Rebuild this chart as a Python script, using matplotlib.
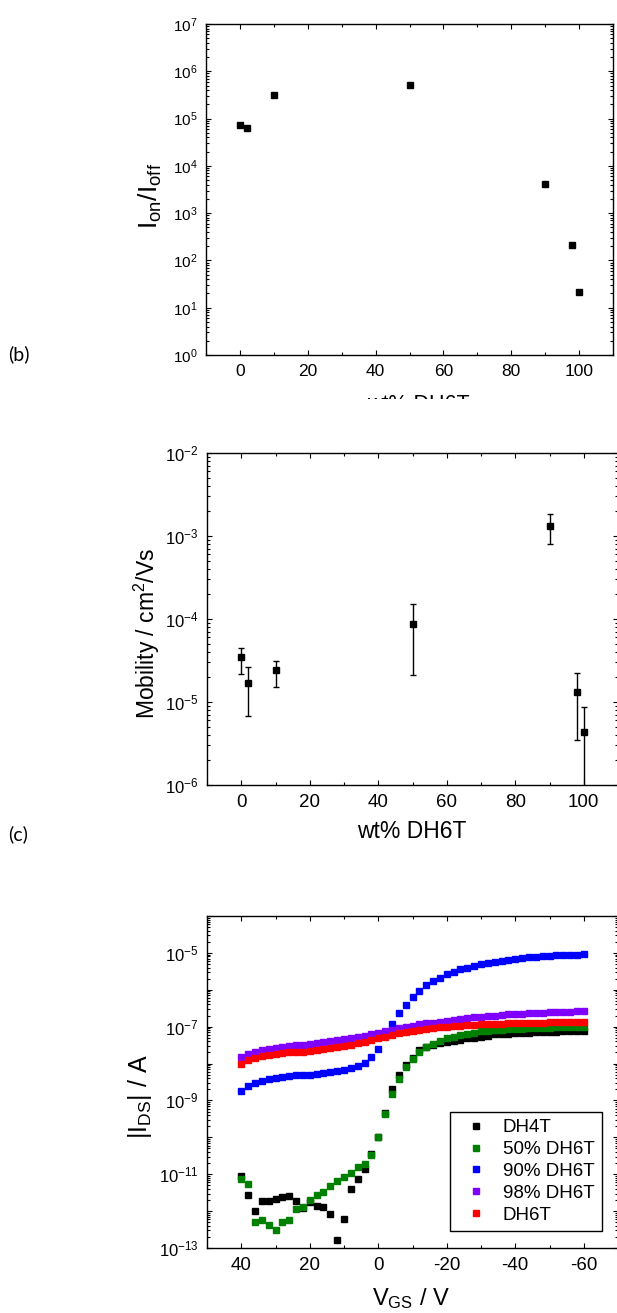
import numpy as np
import matplotlib
matplotlib.use('Agg')
import matplotlib.pyplot as plt
from matplotlib.ticker import LogLocator, MultipleLocator, FuncFormatter, NullFormatter
from matplotlib.transforms import Bbox, TransformedBbox

plt.rcParams['font.family'] = ['Liberation Sans', 'DejaVu Sans']
plt.rcParams['mathtext.fontset'] = 'custom'
plt.rcParams['mathtext.rm'] = 'Liberation Sans'
plt.rcParams['mathtext.it'] = 'Liberation Sans:italic'
plt.rcParams['mathtext.bf'] = 'Liberation Sans:bold'
plt.rcParams['mathtext.default'] = 'regular'
plt.rcParams['axes.unicode_minus'] = False

# (b) on/off ratio vs blend composition
wt_pct = [0, 2, 10, 50, 90, 98, 100]
on_off = [7.4e4, 6.2e4, 3.1e5, 5.2e5, 4.2e3, 2.1e2, 2.1e1]

# (c) mobility with error bars
mob = [3.47e-5, 1.71e-5, 2.40e-5, 8.6e-5, 1.33e-3, 1.32e-5, 4.35e-6]
mob_hi = [4.5e-5, 2.65e-5, 3.16e-5, 1.52e-4, 1.86e-3, 2.25e-5, 8.6e-6]
mob_lo = [2.15e-5, 6.8e-6, 1.51e-5, 2.09e-5, 8.0e-4, 3.44e-6, 5.0e-7]

# transfer curves
vgs = [40, 38, 36, 34, 32, 30, 28, 26, 24, 22, 20, 18, 16, 14, 12, 10, 8, 6, 4, 2,
       0, -2, -4, -6, -8, -10, -12, -14, -16, -18, -20, -22, -24, -26, -28, -30,
       -32, -34, -36, -38, -40, -42, -44, -46, -48, -50, -52, -54, -56, -58, -60]

ids_dh4t = [8.9e-12, 2.75e-12, 1.02e-12, 1.91e-12, 1.91e-12, 2.19e-12, 2.45e-12, 2.57e-12,
            1.91e-12, 1.20e-12, 1.74e-12, 1.38e-12, 1.32e-12, 8.3e-13, 1.66e-13, 6.2e-13,
            3.98e-12, 7.2e-12, 1.35e-11, 3.5e-11, 1.0e-10, 4.7e-10, 2.04e-9, 4.8e-9, 8.9e-9,
            1.41e-8, 2.34e-8, 2.75e-8, 3.24e-8, 3.63e-8, 3.89e-8, 4.17e-8, 4.47e-8, 4.79e-8,
            5.01e-8, 5.37e-8, 5.75e-8, 6.17e-8, 6.31e-8, 6.46e-8, 6.61e-8, 6.76e-8, 6.92e-8,
            7.08e-8, 7.08e-8, 7.24e-8, 7.24e-8, 7.41e-8, 7.41e-8, 7.41e-8, 7.41e-8]
ids_50 = [7.2e-12, 5.4e-12, 5.0e-13, 5.8e-13, 4.3e-13, 3.0e-13, 5.0e-13, 5.6e-13,
          1.15e-12, 1.26e-12, 1.95e-12, 2.75e-12, 3.24e-12, 4.9e-12, 6.6e-12, 8.5e-12,
          1.10e-11, 1.55e-11, 1.95e-11, 3.3e-11, 1.0e-10, 4.4e-10, 1.51e-9, 3.9e-9, 7.9e-9,
          1.35e-8, 2.04e-8, 2.75e-8, 3.47e-8, 4.17e-8, 4.79e-8, 5.37e-8, 6.03e-8, 6.46e-8,
          6.92e-8, 7.41e-8, 7.76e-8, 8.13e-8, 8.32e-8, 8.51e-8, 8.71e-8, 8.91e-8, 9.12e-8,
          9.12e-8, 9.33e-8, 9.33e-8, 9.55e-8, 9.55e-8, 9.77e-8, 9.77e-8, 1.0e-7]
ids_90 = [1.78e-9, 2.51e-9, 3.02e-9, 3.39e-9, 3.72e-9, 3.98e-9, 4.27e-9, 4.57e-9,
          4.79e-9, 4.90e-9, 5.01e-9, 5.25e-9, 5.50e-9, 5.75e-9, 6.17e-9, 6.61e-9,
          7.41e-9, 8.51e-9, 1.05e-8, 1.55e-8, 2.51e-8, 5.62e-8, 1.20e-7, 2.34e-7, 3.98e-7,
          6.31e-7, 9.33e-7, 1.32e-6, 1.74e-6, 2.14e-6, 2.63e-6, 3.02e-6, 3.55e-6, 3.98e-6,
          4.47e-6, 4.90e-6, 5.37e-6, 5.75e-6, 6.17e-6, 6.61e-6, 6.92e-6, 7.24e-6, 7.59e-6,
          7.76e-6, 8.13e-6, 8.32e-6, 8.51e-6, 8.71e-6, 8.91e-6, 8.91e-6, 9.12e-6]
ids_98 = [1.48e-8, 1.86e-8, 2.09e-8, 2.29e-8, 2.51e-8, 2.69e-8, 2.82e-8, 2.95e-8,
          3.09e-8, 3.24e-8, 3.47e-8, 3.63e-8, 3.89e-8, 4.07e-8, 4.37e-8, 4.68e-8,
          5.01e-8, 5.37e-8, 5.75e-8, 6.31e-8, 6.92e-8, 7.59e-8, 8.32e-8, 9.12e-8, 9.77e-8,
          1.07e-7, 1.15e-7, 1.23e-7, 1.29e-7, 1.38e-7, 1.45e-7, 1.55e-7, 1.66e-7, 1.70e-7,
          1.78e-7, 1.86e-7, 1.91e-7, 2.00e-7, 2.04e-7, 2.14e-7, 2.19e-7, 2.24e-7, 2.29e-7,
          2.34e-7, 2.40e-7, 2.45e-7, 2.51e-7, 2.51e-7, 2.57e-7, 2.63e-7, 2.63e-7]
ids_dh6t = [1.00e-8, 1.23e-8, 1.41e-8, 1.58e-8, 1.70e-8, 1.82e-8, 1.91e-8, 2.00e-8,
            2.04e-8, 2.09e-8, 2.19e-8, 2.29e-8, 2.45e-8, 2.63e-8, 2.82e-8, 3.02e-8,
            3.24e-8, 3.55e-8, 3.89e-8, 4.37e-8, 4.90e-8, 5.37e-8, 6.03e-8, 6.61e-8, 7.08e-8,
            7.59e-8, 8.13e-8, 8.71e-8, 9.12e-8, 9.55e-8, 1.00e-7, 1.02e-7, 1.07e-7, 1.10e-7,
            1.12e-7, 1.15e-7, 1.17e-7, 1.17e-7, 1.20e-7, 1.23e-7, 1.23e-7, 1.26e-7, 1.26e-7,
            1.29e-7, 1.29e-7, 1.32e-7, 1.32e-7, 1.35e-7, 1.35e-7, 1.38e-7, 1.38e-7]

series = [('DH4T', ids_dh4t, '#000000'),
          ('50% DH6T', ids_50, '#008000'),
          ('90% DH6T', ids_90, '#0000ff'),
          ('98% DH6T', ids_98, '#8000ff'),
          ('DH6T', ids_dh6t, '#ff0000')]

W, H = 617, 1313


def box(l, t, r, b):
    return [l / W, 1 - b / H, (r - l) / W, (b - t) / H]


def pow10(v, pos):
    return r'$10^{%d}$' % round(np.log10(v))


def pow10_odd(v, pos):
    e = round(np.log10(v))
    return r'$10^{%d}$' % e if e % 2 else ''


def style(ax, tick_fs):
    for s in ax.spines.values():
        s.set_linewidth(1.0)
    ax.tick_params(which='both', direction='in', top=True, right=True, width=0.8)
    ax.tick_params(which='major', length=3.8, pad=6.5, labelsize=tick_fs)
    ax.tick_params(which='minor', length=2.0)
    ax.tick_params(axis='y', which='major', labelsize=tick_fs - 1.5, pad=6)


fig = plt.figure(figsize=(W / 100, H / 100), dpi=100)

# ---- panel (b)
ax1 = fig.add_axes(box(206, 24, 613, 355))
ax1.plot(wt_pct, on_off, 's', color='k', ms=5)
ax1.set_yscale('log')
ax1.set_xlim(-10, 110)
ax1.set_ylim(1, 1e7)
ax1.xaxis.set_major_locator(MultipleLocator(20))
ax1.xaxis.set_minor_locator(MultipleLocator(10))
ax1.yaxis.set_major_locator(LogLocator(base=10, numticks=20))
ax1.yaxis.set_major_formatter(FuncFormatter(pow10))
ax1.yaxis.set_minor_locator(LogLocator(base=10, subs=np.arange(2, 10), numticks=20))
ax1.yaxis.set_minor_formatter(NullFormatter())
style(ax1, 12.5)
ax1.text(-0.137, 0.48, 'I$_{on}$/I$_{off}$', transform=ax1.transAxes, rotation=90,
         ha='center', va='center', fontsize=19)
# x label of this panel is cut off by the crop of the original figure
t = fig.text(418 / W, 1 - 410 / H, 'wt% DH6T', ha='center', va='baseline', fontsize=15.5)
t.set_clip_box(TransformedBbox(Bbox([[0, 1 - 398.5 / H], [1, 1]]), fig.transFigure))
t.set_clip_on(True)

# ---- panel (c)
ax2 = fig.add_axes(box(207, 453, 618, 785))
ax2.errorbar(wt_pct, mob,
             yerr=[np.array(mob) - np.array(mob_lo), np.array(mob_hi) - np.array(mob)],
             fmt='s', color='k', ms=4, capsize=2.5, elinewidth=1, capthick=1)
ax2.set_yscale('log')
ax2.set_xlim(-10, 110)
ax2.set_ylim(1e-6, 1e-2)
ax2.xaxis.set_major_locator(MultipleLocator(20))
ax2.xaxis.set_minor_locator(MultipleLocator(10))
ax2.yaxis.set_major_locator(LogLocator(base=10, numticks=20))
ax2.yaxis.set_major_formatter(FuncFormatter(pow10))
ax2.yaxis.set_minor_locator(LogLocator(base=10, subs=np.arange(2, 10), numticks=20))
ax2.yaxis.set_minor_formatter(NullFormatter())
style(ax2, 13.5)
ax2.text(-0.146, 0.455, 'Mobility / cm$^{2}$/Vs', transform=ax2.transAxes, rotation=90,
         ha='center', va='center', fontsize=16.5)
ax2.text(0.499, -0.16, 'wt% DH6T', transform=ax2.transAxes, ha='center', va='baseline',
         fontsize=16.5)

# ---- transfer curves
ax3 = fig.add_axes(box(207, 916, 618, 1248))
for name, ids, c in series:
    ax3.plot(vgs, ids, 's', color=c, ms=4.3, mec=c, label=name)
ax3.set_yscale('log')
ax3.set_xlim(50, -70)
ax3.set_ylim(1e-13, 1e-4)
ax3.xaxis.set_major_locator(MultipleLocator(20))
ax3.xaxis.set_minor_locator(MultipleLocator(10))
ax3.yaxis.set_major_locator(LogLocator(base=10, numticks=20))
ax3.yaxis.set_major_formatter(FuncFormatter(pow10_odd))
ax3.yaxis.set_minor_locator(LogLocator(base=10, subs=np.arange(2, 10), numticks=20))
ax3.yaxis.set_minor_formatter(NullFormatter())
style(ax3, 13.5)
ax3.text(-0.163, 0.455, '|I$_{DS}$| / A', transform=ax3.transAxes, rotation=90,
         ha='center', va='center', fontsize=18)
ax3.text(0.496, -0.172, 'V$_{GS}$ / V', transform=ax3.transAxes, ha='center',
         va='baseline', fontsize=17)
leg = ax3.legend(loc='lower right', bbox_to_anchor=(0.961, 0.051), fontsize=13.5,
                 numpoints=1, fancybox=False, edgecolor='k', framealpha=1,
                 borderpad=0.4, labelspacing=0.25, handlelength=2.0, handletextpad=0.4,
                 borderaxespad=0, markerscale=0.9)
leg.get_frame().set_linewidth(1.0)

fig.text(8 / W, 1 - 354 / H, '(b)', family=['Lato', 'DejaVu Sans'], fontsize=14,
         ha='left', va='center')
fig.text(8 / W, 1 - 834 / H, '(c)', family=['Lato', 'DejaVu Sans'], fontsize=14,
         ha='left', va='center')

fig.savefig('out.png', dpi=100)
